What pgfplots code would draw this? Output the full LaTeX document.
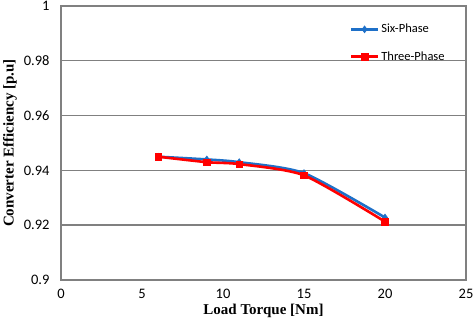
\documentclass[border=0pt]{standalone}
\usepackage{pgfplots}
\pgfplotsset{compat=1.18}
\usepackage{fontspec}
\setmainfont{Carlito}
\newfontfamily\timesfont{Liberation Serif}
\definecolor{sixblue}{RGB}{30,112,200}
\definecolor{framegray}{RGB}{128,128,128}
\begin{document}
\begin{tikzpicture}
\useasboundingbox (-61pt,-52pt) rectangle (413pt,280pt);
\begin{axis}[
  at={(0,0)}, anchor=south west,
  scale only axis, width=405pt, height=274pt,
  xmin=0, xmax=25, ymin=0.9, ymax=1,
  xtick={0,5,...,25},
  ytick={0.9,0.92,0.94,0.96,0.98,1},
  yticklabels={0.9,0.92,0.94,0.96,0.98,1},
  xticklabels={0,5,10,15,20,25},
  major tick length=0pt,
  ymajorgrids,
  grid style={framegray, line width=1.4pt},
  axis line style={framegray, line width=2pt},
  tick label style={font=\fontsize{14.5}{16}\selectfont},
  xticklabel style={yshift=-6pt},
  yticklabel style={xshift=-8pt},
  xlabel={\timesfont\bfseries\fontsize{15}{17}\selectfont Load Torque [Nm]},
  ylabel={\timesfont\bfseries\fontsize{15}{17}\selectfont Converter Efficiency [p.u]},
  xlabel style={yshift=2pt},
  ylabel style={yshift=0pt},
  /pgf/number format/assume math mode=true,
  legend style={at={(rel axis cs:0.71,0.945)}, anchor=north west, draw=none, fill=none,
    font=\fontsize{12.5}{14}\selectfont, row sep=13pt, inner sep=1pt},
  legend cell align=left,
  legend image code/.code={\draw[mark repeat=2,mark phase=2,#1] plot coordinates {(0pt,0pt) (13.5pt,0pt) (27pt,0pt)};},
]
\addplot[sixblue, line width=2.6pt, smooth, tension=0.4, mark=diamond*, mark size=3.5pt, mark options={line width=0.5pt}]
  coordinates {(6,0.945) (9,0.944) (11,0.943) (15,0.939) (20,0.9228)};
\addlegendentry{Six-Phase}
\addplot[red, line width=2.6pt, smooth, tension=0.4, mark=square*, mark size=3.3pt, mark options={line width=0.5pt}]
  coordinates {(6,0.945) (9,0.943) (11,0.9423) (15,0.9382) (20,0.9213)};
\addlegendentry{Three-Phase}
\end{axis}
\end{tikzpicture}
\end{document}
